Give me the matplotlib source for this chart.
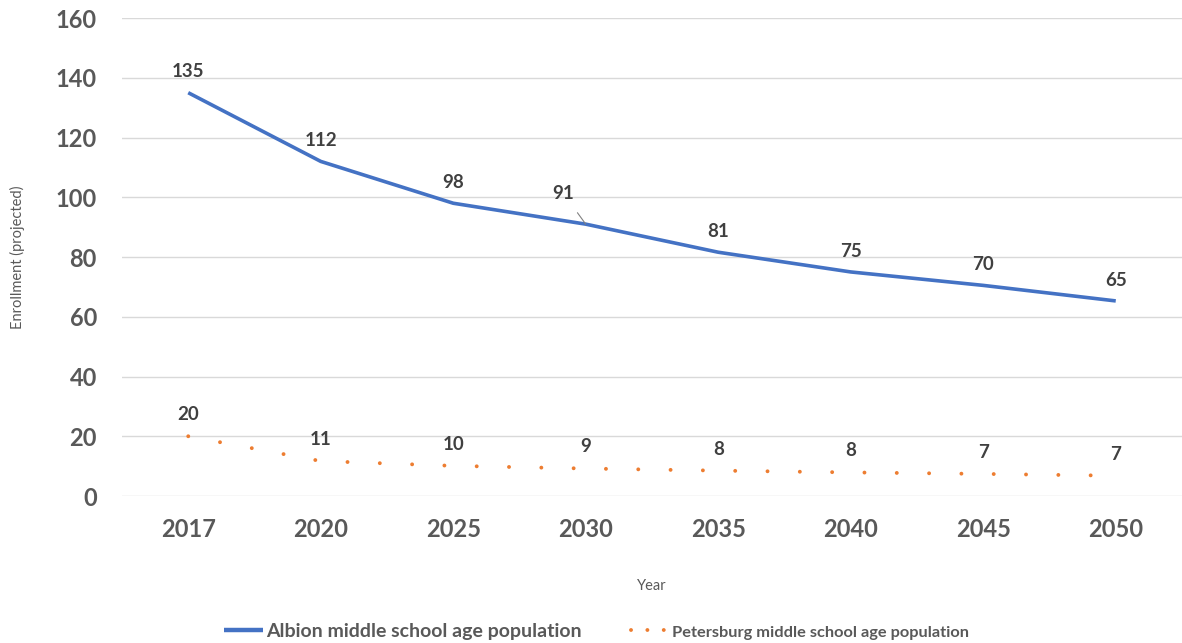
import matplotlib
matplotlib.use("Agg")
import matplotlib.pyplot as plt
from matplotlib.lines import Line2D
import numpy as np

plt.rcParams["font.family"] = ["Lato", "DejaVu Sans"]

years = ["2017", "2020", "2025", "2030", "2035", "2040", "2045", "2050"]
albion = [135, 112, 98, 91, 81.6, 75, 70.5, 65.3]
albion_labels = ["135", "112", "98", "91", "81", "75", "70", "65"]
petersburg = [20, 11.7, 10.1, 9.2, 8.5, 7.9, 7.4, 6.8]
petersburg_labels = ["20", "11", "10", "9", "8", "8", "7", "7"]

BLUE = "#4472C4"
ORANGE = "#ED7D31"
TICK = "#595959"
LABEL = "#404040"

fig = plt.figure(figsize=(11.82, 6.43), dpi=100)
ax = fig.add_axes([0.1032, 0.2286, 0.8968, 0.7434])

x = np.arange(len(years))
ax.plot(x, albion, color=BLUE, lw=2.6, solid_capstyle="butt")
ax.plot(x, petersburg, color=ORANGE, lw=2.8, linestyle=(0, (0.01, 8.3)),
        dash_capstyle="round")

for i, (v, t) in enumerate(zip(albion, albion_labels)):
    if t == "91":
        ax.annotate(t, (i, v), xytext=(-16, 22), textcoords="offset points",
                    ha="center", va="center", fontsize=13.5, fontweight="bold",
                    color=LABEL,
                    arrowprops=dict(arrowstyle="-", color="#808080", lw=0.8,
                                    shrinkA=7, shrinkB=0))
    else:
        ax.annotate(t, (i, v), xytext=(0, 15), textcoords="offset points",
                    ha="center", va="center", fontsize=13.5, fontweight="bold",
                    color=LABEL)

for i, (v, t) in enumerate(zip(petersburg, petersburg_labels)):
    ax.annotate(t, (i, v), xytext=(0, 15.5), textcoords="offset points",
                ha="center", va="center", fontsize=13.5, fontweight="bold",
                color=LABEL)

ax.set_xlim(-0.5, len(years) - 0.5)
ax.set_ylim(0, 160)
ax.set_yticks(range(0, 161, 20))
ax.set_xticks(x)
ax.set_xticklabels(years)
ax.grid(axis="y", color="#D9D9D9", lw=1)
ax.set_axisbelow(True)
for s in ax.spines.values():
    s.set_visible(False)
ax.tick_params(length=0, labelsize=17, labelcolor=TICK)
ax.tick_params(axis="y", pad=18)
ax.tick_params(axis="x", pad=16)
for lbl in ax.get_xticklabels() + ax.get_yticklabels():
    lbl.set_fontweight("bold")
ax.set_ylabel("Enrollment (projected)", fontsize=10.5, color=TICK, labelpad=22)
ax.set_xlabel("Year", fontsize=10.5, color=TICK, labelpad=27)

handles = [
    Line2D([], [], color=BLUE, lw=3.2, solid_capstyle="butt"),
    Line2D([], [], color=ORANGE, lw=2.8, linestyle=(0, (0.01, 4.2)),
           dash_capstyle="round"),
]
names = ["Albion middle school age population",
         "Petersburg middle school age population"]
leg = fig.legend(handles, names, loc="lower center",
                 bbox_to_anchor=(0.505, -0.022), ncol=2, frameon=False,
                 handlelength=2.0, columnspacing=2.5, handletextpad=0.15,
                 prop={"size": 14})
texts = leg.get_texts()
texts[1].set_fontsize(11.8)
for t in texts:
    t.set_fontweight("bold")
    t.set_color(TICK)

fig.savefig("out.png", dpi=100)
